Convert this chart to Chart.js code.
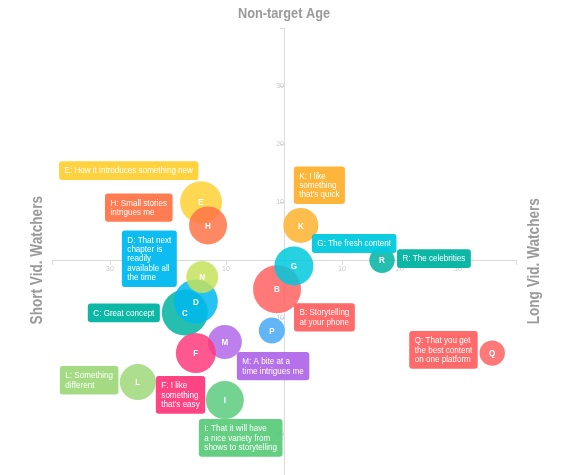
<!DOCTYPE html>
<html><head><meta charset="utf-8">
<script src="https://cdn.jsdelivr.net/npm/chart.js@4/dist/chart.umd.min.js"></script>
<style>html,body{margin:0;padding:0;background:#fff;overflow:hidden}#wrap{width:569px;height:475px;position:relative}canvas{display:block}</style>
</head><body><div id="wrap"><canvas id="c" width="569" height="475"></canvas></div>
<script>
// ---- data ----
const codes = ['C','D','N','E','H','B','G','K','R','P','M','F','L','I','Q'];
const statements = [
  ['C: Great concept'],
  ['D: That next','chapter is','readily','available all','the time'],
  null,
  ['E: How it introduces something new'],
  ['H: Small stories','intrigues me'],
  ['B: Storytelling','at your phone'],
  ['G: The fresh content'],
  ['K: I like','something',"that's quick"],
  ['R: The celebrities'],
  null,
  ['M: A bite at a','time intrigues me'],
  ['F: I like','something',"that's easy"],
  ['L: Something','different'],
  ['I: That it will have','a nice variety from','shows to storytelling'],
  ['Q: That you get','the best content','on one platform']
];
const xValues = [-17.1,-15.2,-14.1,-14.3,-13.1,-1.2,1.7,2.9,16.9,-2.1,-10.2,-15.2,-25.2,-10.2,35.9];
const yValues = [-9.0,-7.1,-2.9,10.0,6.0,-5.0,-1.0,6.0,0.0,-12.1,-14.1,-16.0,-21.0,-24.1,-16.0];
const bubbleSizes = [23,22,16,21,19,24,19.5,17.5,12.7,13,17,20,18,19,12.7];
const tickValues = [-40,-30,-20,-10,0,10,20,30,40];
const titles = {top:'Non-target Age', left:'Short Vid. Watchers', right:'Long Vid. Watchers'};

// ---- styles / layout ----
const colors = {
  B:'#ff6262', C:'#00b3a1', D:'#00b8f0', E:'#ffd135', F:'#ff3a7c', G:'#00c9dd', H:'#ff7448',
  I:'#5ccb7c', K:'#ffb12f', L:'#9fd87a', M:'#b169e8', N:'#c6e25c', P:'#46a9f6', Q:'#ff6262', R:'#00b3a1'
};
// callout box top-left offset (px) from bubble centre
const calloutOffsets = {
  B:[17,14], C:[-97,-9], D:[-74,-71], E:[-142,-41], F:[-40,23], G:[18,-32], H:[-103,-32],
  I:[-26,19], K:[-7,-59], L:[-78,-16], M:[12,10], Q:[-83,-22], R:[15,-11]
};
const SX = 0.85;
const FONT = '"Liberation Sans", Arial, sans-serif';

function hexA(h,a){const n=parseInt(h.slice(1),16);return `rgba(${n>>16},${(n>>8)&255},${n&255},${a})`;}
function txt(ctx,t,x,y,font,align,rot){
  ctx.save();ctx.translate(x,y);if(rot)ctx.rotate(rot);ctx.scale(SX,1);
  ctx.font=font;ctx.textAlign=align;ctx.textBaseline='middle';ctx.fillText(t,0,0);ctx.restore();
}
function tw(ctx,t,font){ctx.save();ctx.font=font;const w=ctx.measureText(t).width*SX;ctx.restore();return w;}
function rrect(ctx,x,y,w,h,r){ctx.beginPath();ctx.moveTo(x+r,y);ctx.lineTo(x+w-r,y);ctx.quadraticCurveTo(x+w,y,x+w,y+r);
  ctx.lineTo(x+w,y+h-r);ctx.quadraticCurveTo(x+w,y+h,x+w-r,y+h);ctx.lineTo(x+r,y+h);ctx.quadraticCurveTo(x,y+h,x,y+h-r);
  ctx.lineTo(x,y+r);ctx.quadraticCurveTo(x,y,x+r,y);ctx.closePath();}

const overlay = {
  id:'overlay',
  afterDatasetsDraw(chart){
    const ctx=chart.ctx, meta=chart.getDatasetMeta(0);
    const boxFont='9.5px '+FONT, lh=9.4;
    meta.data.forEach((el,i)=>{
      ctx.fillStyle='#fff';
      txt(ctx,codes[i],el.x,el.y+0.5,'bold 9.5px '+FONT,'center');
    });
    meta.data.forEach((el,i)=>{
      const lines=statements[i]; if(!lines) return;
      const c=codes[i], off=calloutOffsets[c];
      const w=Math.max(...lines.map(l=>tw(ctx,l,boxFont)))+11;
      const h=lines.length*lh+9.5;
      const x=el.x+off[0], y=el.y+off[1];
      ctx.fillStyle=hexA(colors[c],0.95);
      rrect(ctx,x,y,w,h,3);ctx.fill();
      ctx.fillStyle='#fff';
      lines.forEach((l,k)=>txt(ctx,l,x+5.5,y+4.9+lh*(k+0.5),boxFont,'left'));
    });
    const xs=chart.scales.x, ys=chart.scales.y;
    const cx=xs.getPixelForValue(0), cy=ys.getPixelForValue(0);
    ctx.fillStyle='#9a9a9a';
    txt(ctx,titles.top,cx,14,'bold 15px '+FONT,'center');
    txt(ctx,titles.left,38,cy,'bold 16px '+FONT,'center',-Math.PI/2);
    txt(ctx,titles.right,535,cy+1,'bold 16px '+FONT,'center',-Math.PI/2);
  }
};

const tickCb = v => (v===0 || Math.abs(v)>=40) ? '' : String(Math.abs(v));
const keepTicks = s => { s.ticks = tickValues.filter(v=>v>=s.min && v<=s.max).map(v=>({value:v})); };
const axisCommon = {
  grid:{drawOnChartArea:false,drawTicks:true,tickLength:4,color:'#dcdcdc'},
  border:{color:'#dcdcdc'},
  afterBuildTicks: keepTicks
};

new Chart(document.getElementById('c'),{
  type:'bubble',
  data:{datasets:[{
    data: codes.map((c,i)=>({x:xValues[i],y:yValues[i],r:bubbleSizes[i]})),
    backgroundColor: codes.map(c=>hexA(colors[c],0.85)),
    borderWidth:0, hoverBorderWidth:0, clip:false
  }]},
  options:{
    responsive:false, maintainAspectRatio:false, animation:false, devicePixelRatio:1,
    layout:{autoPadding:false, padding:{left:52,right:53,top:28,bottom:0}},
    plugins:{legend:{display:false},tooltip:{enabled:false}},
    scales:{
      x:Object.assign({type:'linear',min:-40,max:40,position:{y:0},
        afterFit:s=>{s.height=0;s.paddingLeft=0;s.paddingRight=0;s.paddingTop=0;s.paddingBottom=0;},
        ticks:{stepSize:10,autoSkip:false,maxRotation:0,padding:1,color:'#c8c8c8',font:{size:7,family:FONT},callback:tickCb}},axisCommon),
      y:Object.assign({type:'linear',min:-37,max:40,position:{x:0},
        afterFit:s=>{s.width=0;s.paddingTop=0;s.paddingBottom=0;s.paddingLeft=0;s.paddingRight=0;},
        ticks:{stepSize:10,autoSkip:false,padding:2,color:'#c8c8c8',font:{size:7,family:FONT},callback:tickCb}},axisCommon)
    }
  },
  plugins:[overlay]
});
</script></body></html>
